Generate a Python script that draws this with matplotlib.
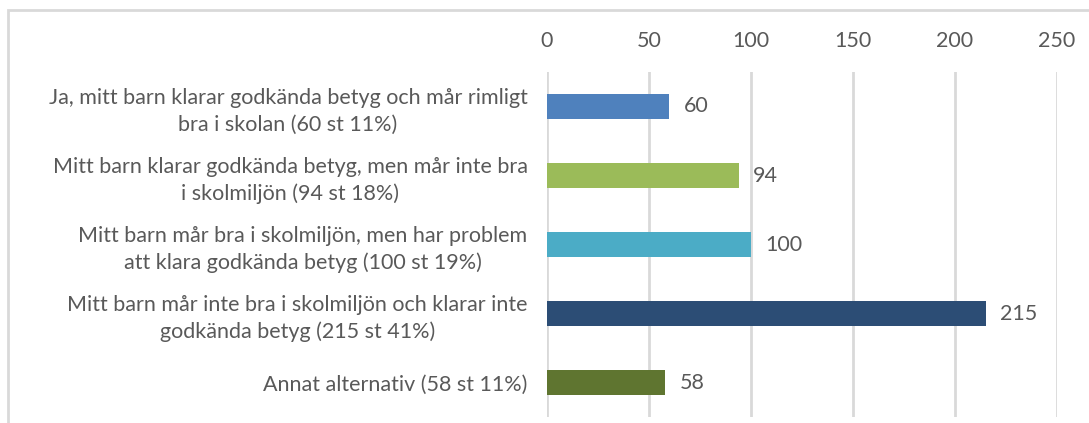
import matplotlib.pyplot as plt
from matplotlib.patches import Rectangle

plt.rcParams['font.family'] = ['Lato', 'DejaVu Sans']

labels = [
    'Ja, mitt barn klarar godkända betyg och mår rimligt\nbra i skolan (60 st 11%)',
    'Mitt barn klarar godkända betyg, men mår inte bra\ni skolmiljön (94 st 18%)',
    'Mitt barn mår bra i skolmiljön, men har problem\natt klara godkända betyg (100 st 19%)',
    'Mitt barn mår inte bra i skolmiljön och klarar inte\ngodkända betyg (215 st 41%)',
    'Annat alternativ (58 st 11%)',
]
values = [60, 94, 100, 215, 58]
colors = ['#4F81BD', '#9BBB59', '#4BACC6', '#2C4D75', '#5F7530']
ticks = [0, 50, 100, 150, 200, 250]

text_color = '#595959'
grid_color = '#D9D9D9'
fs = 15.5

fig = plt.figure(figsize=(10.89, 4.23), dpi=100)
ax = fig.add_axes([547 / 1089, 6 / 423, (1057 - 547) / 1089, (423 - 72 - 6) / 423])

y = list(range(len(values)))
ax.barh(y, values, height=0.37, color=colors, zorder=3)
for yi, v in zip(y, values):
    ax.text(v + 7, yi, str(v), va='center', ha='left', fontsize=fs, color=text_color)

ax.set_xlim(0, 250)
ax.set_ylim(len(values) - 0.5, -0.5)
ax.set_xticks(ticks)
ax.xaxis.tick_top()
ax.tick_params(axis='x', length=0, pad=15, labelsize=fs, labelcolor=text_color)
ax.set_yticks(y)
ax.set_yticklabels(labels, fontsize=fs, color=text_color, multialignment='center',
                   linespacing=1.4)
ax.tick_params(axis='y', length=0, pad=14)
ax.grid(axis='x', color=grid_color, linewidth=2, zorder=0)
for s in ax.spines.values():
    s.set_visible(False)

# chart frame
fig.patches.append(Rectangle((8 / 1089, -0.1), 1.2, 1 - 10 / 423 + 0.1,
                             transform=fig.transFigure, fill=False,
                             edgecolor=grid_color, linewidth=2))

fig.savefig('out.png', dpi=100)
